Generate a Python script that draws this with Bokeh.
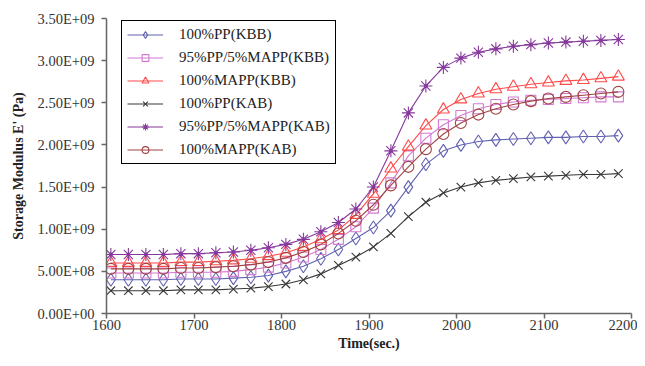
from bokeh.plotting import figure
from bokeh.models import FixedTicker, Legend, LegendItem, Range1d
from bokeh.embed import file_html
from bokeh.resources import INLINE

time_s = [1605, 1625, 1645, 1665, 1685, 1705, 1725, 1745, 1765, 1785,
          1805, 1825, 1845, 1865, 1885, 1905, 1925, 1945, 1965, 1985,
          2005, 2025, 2045, 2065, 2085, 2105, 2125, 2145, 2165, 2185]

# Storage modulus in units of 1e9 Pa
pp_kbb = [0.40, 0.40, 0.40, 0.40, 0.41, 0.41, 0.41, 0.42, 0.43, 0.45,
          0.50, 0.56, 0.65, 0.76, 0.89, 1.02, 1.22, 1.50, 1.77, 1.93,
          2.00, 2.04, 2.06, 2.07, 2.08, 2.09, 2.09, 2.10, 2.10, 2.11]
blend_kbb = [0.48, 0.48, 0.48, 0.48, 0.49, 0.49, 0.49, 0.50, 0.52, 0.55,
             0.60, 0.67, 0.76, 0.88, 1.03, 1.25, 1.55, 1.87, 2.08, 2.24,
             2.35, 2.43, 2.48, 2.51, 2.53, 2.54, 2.55, 2.56, 2.57, 2.57]
mapp_kbb = [0.60, 0.60, 0.60, 0.60, 0.61, 0.61, 0.62, 0.63, 0.65, 0.68,
            0.72, 0.79, 0.88, 0.99, 1.17, 1.42, 1.72, 1.98, 2.23, 2.42,
            2.54, 2.61, 2.66, 2.69, 2.72, 2.74, 2.76, 2.77, 2.79, 2.81]
pp_kab = [0.27, 0.27, 0.27, 0.27, 0.28, 0.28, 0.28, 0.29, 0.30, 0.32,
          0.35, 0.40, 0.47, 0.57, 0.67, 0.79, 0.95, 1.15, 1.32, 1.43,
          1.50, 1.55, 1.58, 1.60, 1.62, 1.63, 1.64, 1.65, 1.65, 1.66]
blend_kab = [0.70, 0.70, 0.70, 0.70, 0.71, 0.71, 0.72, 0.73, 0.75, 0.78,
             0.82, 0.88, 0.97, 1.08, 1.24, 1.50, 1.93, 2.38, 2.70, 2.92,
             3.03, 3.10, 3.14, 3.17, 3.19, 3.21, 3.22, 3.23, 3.24, 3.25]
mapp_kab = [0.53, 0.53, 0.53, 0.53, 0.54, 0.54, 0.55, 0.56, 0.58, 0.61,
            0.66, 0.73, 0.82, 0.95, 1.10, 1.29, 1.52, 1.74, 1.95, 2.13,
            2.26, 2.36, 2.43, 2.48, 2.52, 2.55, 2.57, 2.59, 2.61, 2.63]

series_names = ["100%PP(KBB)", "95%PP/5%MAPP(KBB)", "100%MAPP(KBB)",
                "100%PP(KAB)", "95%PP/5%MAPP(KAB)", "100%MAPP(KAB)"]
series_values = [pp_kbb, blend_kbb, mapp_kbb, pp_kab, blend_kab, mapp_kab]
series_markers = ["diamond", "square", "triangle", "x", "asterisk", "circle"]
series_colors = ["#6262B0", "#D27AD2", "#FF4A4A", "#383838", "#86399C", "#A04343"]
series_sizes = [13, 10, 12, 12, 13, 11]

x_ticks = [1600, 1700, 1800, 1900, 2000, 2100, 2200]
y_ticks = [0.0, 0.5e9, 1.0e9, 1.5e9, 2.0e9, 2.5e9, 3.0e9, 3.5e9]
y_tick_labels = ["0.00E+00", "5.00E+08", "1.00E+09", "1.50E+09",
                 "2.00E+09", "2.50E+09", "3.00E+09", "3.50E+09"]

FONT = "Liberation Serif"

p = figure(width=637, height=358, output_backend="svg", toolbar_location=None,
           x_range=Range1d(1600, 2200), y_range=Range1d(0, 3.5e9),
           min_border_left=106, min_border_right=6, min_border_top=18,
           min_border_bottom=45)
p.outline_line_color = None
p.xgrid.grid_line_color = None
p.ygrid.grid_line_color = None
p.background_fill_color = "white"
p.border_fill_color = "white"

items = []
for name, vals, mk, col, sz in zip(series_names, series_values, series_markers,
                                   series_colors, series_sizes):
    yv = [v * 1e9 for v in vals]
    r_line = p.line(time_s, yv, line_color=col, line_width=1.1)
    r_mark = p.scatter(time_s, yv, marker=mk, size=sz, line_color=col,
                       fill_color=None, line_width=1.1)
    if mk == "asterisk":
        p.scatter(time_s, yv, marker="circle", size=3.5, line_color=col,
                  fill_color=col, line_width=0.5)
    items.append(LegendItem(label=name, renderers=[r_line, r_mark]))

legend = Legend(items=items, location=(15, 149))
legend.border_line_color = "black"
legend.border_line_alpha = 1.0
legend.border_line_width = 1.2
legend.background_fill_color = "white"
legend.background_fill_alpha = 1
legend.label_text_font = FONT
legend.label_text_font_size = "15px"
legend.label_text_color = "#222222"
legend.glyph_width = 36
legend.glyph_height = 17
legend.label_height = 17
legend.label_standoff = 16
legend.spacing = 6
legend.padding = 5
legend.margin = 0
p.add_layout(legend, "center")

for ax in (p.xaxis[0], p.yaxis[0]):
    ax.axis_line_color = "#666666"
    ax.axis_line_width = 1.5
    ax.major_tick_line_color = "#666666"
    ax.major_tick_line_width = 1.5
    ax.major_tick_out = 5
    ax.major_tick_in = 0
    ax.minor_tick_line_color = None
    ax.major_label_text_font = FONT
    ax.major_label_text_font_size = "14.5px"
    ax.major_label_text_color = "#333333"
    ax.axis_label_text_font = FONT
    ax.axis_label_text_font_size = "14px"
    ax.axis_label_text_font_style = "bold"
    ax.axis_label_text_color = "#222222"

p.xaxis.ticker = FixedTicker(ticks=x_ticks)
p.yaxis.ticker = FixedTicker(ticks=y_ticks)
p.yaxis.major_label_overrides = {t: l for t, l in zip(y_ticks, y_tick_labels)}
p.xaxis.axis_label = "Time(sec.)"
p.yaxis.axis_label = "Storage Modulus E' (Pa)"
p.xaxis.major_label_standoff = 1
p.yaxis.major_label_standoff = 7
p.xaxis.axis_label_standoff = 3
p.yaxis.axis_label_standoff = 9

open("out.html", "w").write(file_html(p, INLINE))
